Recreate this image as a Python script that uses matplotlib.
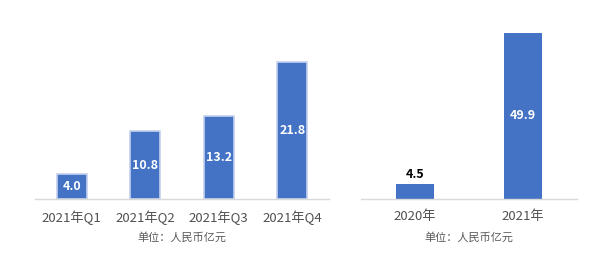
import matplotlib.pyplot as plt

plt.rcParams['font.family'] = ['Noto Sans CJK SC', 'DejaVu Sans']

# 数据
quarters = ['2021年Q1', '2021年Q2', '2021年Q3', '2021年Q4']
quarter_values = [4.0, 10.8, 13.2, 21.8]
years = ['2020年', '2021年']
year_values = [4.5, 49.9]
unit_text = '单位：人民币亿元'

bar_color = '#4472C4'
W, H = 612, 276

fig = plt.figure(figsize=(W / 100, H / 100), dpi=100)


def px_axes(x0, x1, y_base, y_top):
    return fig.add_axes([x0 / W, (H - y_base) / H, (x1 - x0) / W, (y_base - y_top) / H])


def style(ax):
    for s in ['top', 'right', 'left']:
        ax.spines[s].set_visible(False)
    ax.spines['bottom'].set_color('#d9d9d9')
    ax.spines['bottom'].set_linewidth(1.0)
    ax.set_yticks([])
    ax.tick_params(axis='x', length=0, pad=8, labelsize=9.5, labelcolor='#505050')


# 左图：季度
ax1 = px_axes(35, 329, 199, 30)
x1 = range(len(quarters))
ax1.bar(x1, quarter_values, width=0.41, color=bar_color,
        edgecolor='#c3d1ee', linewidth=1.2)
ax1.set_xlim(-0.5, 3.5)
ax1.set_ylim(0, 26.9)
ax1.set_xticks(list(x1))
ax1.set_xticklabels(quarters)
style(ax1)
for i, v in enumerate(quarter_values):
    ax1.text(i, v / 2, f'{v:.1f}', ha='center', va='center', color='white',
             fontsize=9, fontweight='bold')
fig.text(182 / W, (H - 237) / H, unit_text, ha='center', va='center',
         fontsize=8, color='#595959')

# 右图：年度
ax2 = px_axes(361, 577, 199, 30)
x2 = range(len(years))
ax2.bar(x2, year_values, width=0.355, color=bar_color)
ax2.set_xlim(-0.5, 1.5)
ax2.set_ylim(0, 50.8)
ax2.set_xticks(list(x2))
ax2.set_xticklabels(years)
style(ax2)
ax2.text(0, year_values[0] + 0.8, f'{year_values[0]:.1f}', ha='center', va='bottom',
         color='black', fontsize=9, fontweight='bold')
ax2.text(1, year_values[1] / 2, f'{year_values[1]:.1f}', ha='center', va='center',
         color='white', fontsize=9, fontweight='bold')
fig.text(469 / W, (H - 237) / H, unit_text, ha='center', va='center',
         fontsize=8, color='#595959')

fig.savefig('out.png', dpi=100)
